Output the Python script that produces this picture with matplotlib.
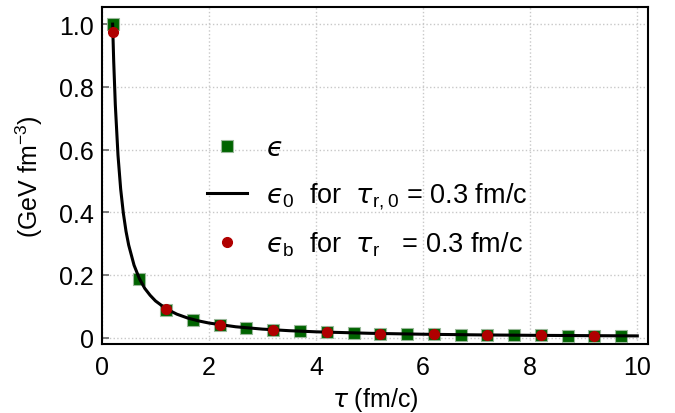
import matplotlib
matplotlib.use("Agg")
import matplotlib.pyplot as plt

plt.rcParams['font.family'] = ['Liberation Sans', 'DejaVu Sans']
plt.rcParams['mathtext.fontset'] = 'custom'
plt.rcParams['mathtext.rm'] = 'Liberation Sans'
plt.rcParams['mathtext.it'] = 'DejaVu Sans:italic'
plt.rcParams['mathtext.fallback'] = 'stixsans'

# energy density, squares (every 0.5 fm/c)
tau_sq = [0.2, 0.7, 1.2, 1.7, 2.2, 2.7, 3.2, 3.7, 4.2, 4.7,
          5.2, 5.7, 6.2, 6.7, 7.2, 7.7, 8.2, 8.7, 9.2, 9.7]
eps_sq = [1.0, 0.188, 0.089, 0.0577, 0.0409, 0.0311, 0.0248, 0.0204, 0.0173, 0.0149,
          0.0130, 0.0115, 0.0103, 0.0093, 0.0084, 0.0077, 0.0071, 0.0065, 0.0061, 0.0057]

# eps_b, red dots (every 1 fm/c)
tau_dot = [0.2, 1.2, 2.2, 3.2, 4.2, 5.2, 6.2, 7.2, 8.2, 9.2]
eps_dot = [0.975, 0.091, 0.041, 0.025, 0.0173, 0.013, 0.0103, 0.0084, 0.0071, 0.0061]

# eps_0 curve
tau_line = [0.2, 0.22, 0.25, 0.3, 0.35, 0.4, 0.45, 0.5, 0.6, 0.7, 0.8, 0.9, 1.0,
            1.2, 1.4, 1.6, 1.8, 2.0, 2.5, 3.0, 3.5, 4.0, 5.0, 6.0, 7.0, 8.0, 9.0, 10.0]
eps_line = [1.0, 0.881, 0.743, 0.582, 0.474, 0.397, 0.339, 0.295, 0.231, 0.188, 0.157,
            0.135, 0.117, 0.0917, 0.0747, 0.0625, 0.0534, 0.0464, 0.0345, 0.0270,
            0.0220, 0.0184, 0.0137, 0.0107, 0.0087, 0.0073, 0.0063, 0.0054]

xticks = [0, 2, 4, 6, 8, 10]
yticks = [0.0, 0.2, 0.4, 0.6, 0.8, 1.0]
ytick_labels = ['0', '0.2', '0.4', '0.6', '0.8', '1.0']

fig = plt.figure(figsize=(6.75, 4.14), dpi=100)
ax = fig.add_axes([0.151, 0.167, 0.809, 0.814])

ax.plot(tau_sq, eps_sq, 's', color='#006400', mec='#9ab89a', mew=0.8, ms=8,
        label='$\u03f5$', zorder=3)
ax.plot(tau_line, eps_line, '-', color='black', lw=2.2,
        label='$\u03f5_0$  for  $\\tau_{\\mathrm{r,0}}$ = 0.3 fm/c', zorder=4)
ax.plot(tau_dot, eps_dot, 'o', color='#b00000', mec='#b00000', ms=7,
        label='$\u03f5_{\\mathrm{b}}$  for  $\\tau_{\\mathrm{r}}$   = 0.3 fm/c', zorder=5)

ax.set_xlim(0, 10.2)
ax.set_ylim(-0.02, 1.055)
ax.set_xticks(xticks)
ax.set_yticks(yticks)
ax.set_yticklabels(ytick_labels)
ax.grid(True, linestyle=':', color='#c8c8c8', lw=1)
ax.set_axisbelow(True)
ax.tick_params(axis='y', direction='in', length=5, width=1.2, color='#666666',
               labelsize=18, pad=6)
ax.tick_params(axis='x', direction='in', length=0, labelsize=18, pad=8)
for s in ax.spines.values():
    s.set_linewidth(1.5)
    s.set_color('black')

ax.set_xlabel(r'$\tau$ (fm/c)', fontsize=18, labelpad=4)
ax.set_ylabel(r'(GeV fm$^{-3}$)', fontsize=18, labelpad=10)

leg = ax.legend(loc='center left', bbox_to_anchor=(0.271, 0.522),
                bbox_transform=fig.transFigure, frameon=False, fontsize=19.5,
                handlelength=1.45, handletextpad=0.7, labelspacing=0.7,
                numpoints=1)

fig.savefig('out.png', dpi=100)
